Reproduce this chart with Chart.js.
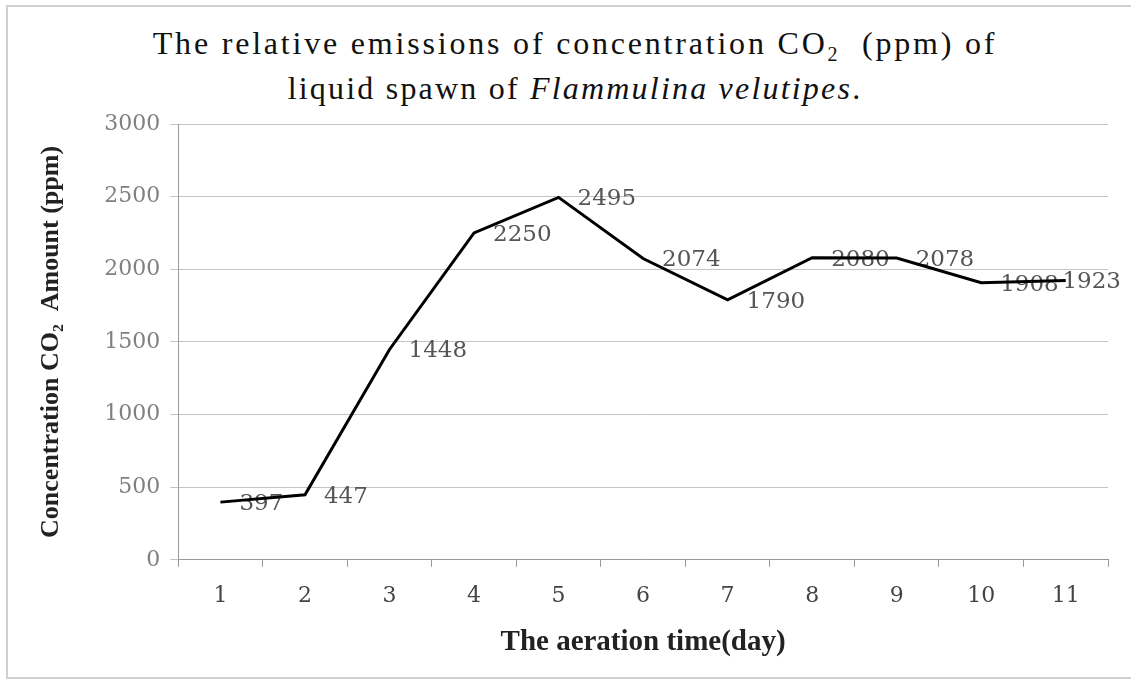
<!DOCTYPE html>
<html>
<head>
<meta charset="utf-8">
<script src="https://cdn.jsdelivr.net/npm/chart.js@4.4.0/dist/chart.umd.min.js"></script>
<style>
  body { margin: 0; background: #fff; overflow: hidden; }
  #wrap { position: relative; width: 1131px; height: 679px; overflow: hidden; }
  #frame { position: absolute; left: 6px; top: 5px; width: 1140px; height: 670px; border: 2px solid #cfcfcf; }
  #title {
    position: absolute; left: 0; top: 26px; width: 1150px; text-align: center;
    font-family: "Liberation Serif", serif; font-size: 32px; line-height: 34px;
    color: #111; letter-spacing: 2.8px;
  }
  canvas { position: absolute; left: 0; top: 0; }
</style>
</head>
<body>
<div id="wrap">
  <div id="frame"></div>
  <div id="title">The relative emissions of concentration CO<sub style="font-size:20px">2</sub>&nbsp;&nbsp;(ppm) of<br><span style="letter-spacing:2.2px">liquid spawn of <i>Flammulina velutipes</i>.</span></div>
  <canvas id="co2Chart" width="1131" height="679"></canvas>
</div>
<script>
// datos
const days = ['1', '2', '3', '4', '5', '6', '7', '8', '9', '10', '11'];
const co2Values = [397, 447, 1448, 2250, 2495, 2074, 1790, 2080, 2078, 1908, 1923];
const yTicks = [0, 500, 1000, 1500, 2000, 2500, 3000];

// etiquetas de valor a la derecha de cada punto (debajo de la linea)
const valueLabels = {
    id: 'valueLabels',
    beforeDatasetsDraw(chart) {
        const ctx = chart.ctx;
        const meta = chart.getDatasetMeta(0);
        ctx.save();
        ctx.font = '23px "DejaVu Serif"';
        ctx.fillStyle = '#555';
        ctx.textBaseline = 'middle';
        ctx.textAlign = 'left';
        meta.data.forEach((pt, i) => {
            const txt = String(co2Values[i]);
            const w = ctx.measureText(txt).width;
            // si no cabe, se corre a la izquierda como en Excel
            const x = Math.min(pt.x + 19, chart.width - 10 - w);
            ctx.fillText(txt, x, pt.y + 2);
        });
        ctx.restore();
    }
};

const ctx = document.getElementById('co2Chart').getContext('2d');
const co2Chart = new Chart(ctx, {
    type: 'line',
    data: {
        labels: days,
        datasets: [{
            data: co2Values,
            borderColor: '#000',
            borderWidth: 3,
            pointRadius: 0,
            tension: 0,
            fill: false
        }]
    },
    options: {
        responsive: false,
        animation: false,
        layout: { padding: { top: 124, left: 36, right: 23, bottom: 19 } },
        scales: {
            x: {
                offset: true,
                grid: { drawOnChartArea: false, drawTicks: true, tickLength: 7, color: '#999', offset: true },
                border: { color: '#999' },
                ticks: { color: '#444', padding: 16, font: { family: 'DejaVu Serif', size: 22 } },
                title: {
                    display: true,
                    text: 'The aeration time(day)',
                    color: '#222',
                    padding: { top: 0, bottom: 0 },
                    font: { family: 'Liberation Serif', size: 29, weight: 'bold' }
                }
            },
            y: {
                min: 0,
                max: 3000,
                afterBuildTicks(axis) { axis.ticks = yTicks.map(v => ({ value: v })); },
                grid: { color: '#c4c4c4', tickLength: 8 },
                border: { color: '#999' },
                ticks: {
                    color: '#808080',
                    padding: 10,
                    font: { family: 'DejaVu Serif', size: 22 },
                    callback: v => String(v)
                },
                title: {
                    display: true,
                    text: 'Concentration CO\u2082  Amount (ppm)',
                    color: '#222',
                    padding: { top: 0, bottom: 27 },
                    font: { family: 'Liberation Serif', size: 26, weight: 'bold' }
                }
            }
        },
        plugins: {
            legend: { display: false },
            title: { display: false },
            tooltip: { enabled: false }
        }
    },
    plugins: [valueLabels]
});
</script>
</body>
</html>
